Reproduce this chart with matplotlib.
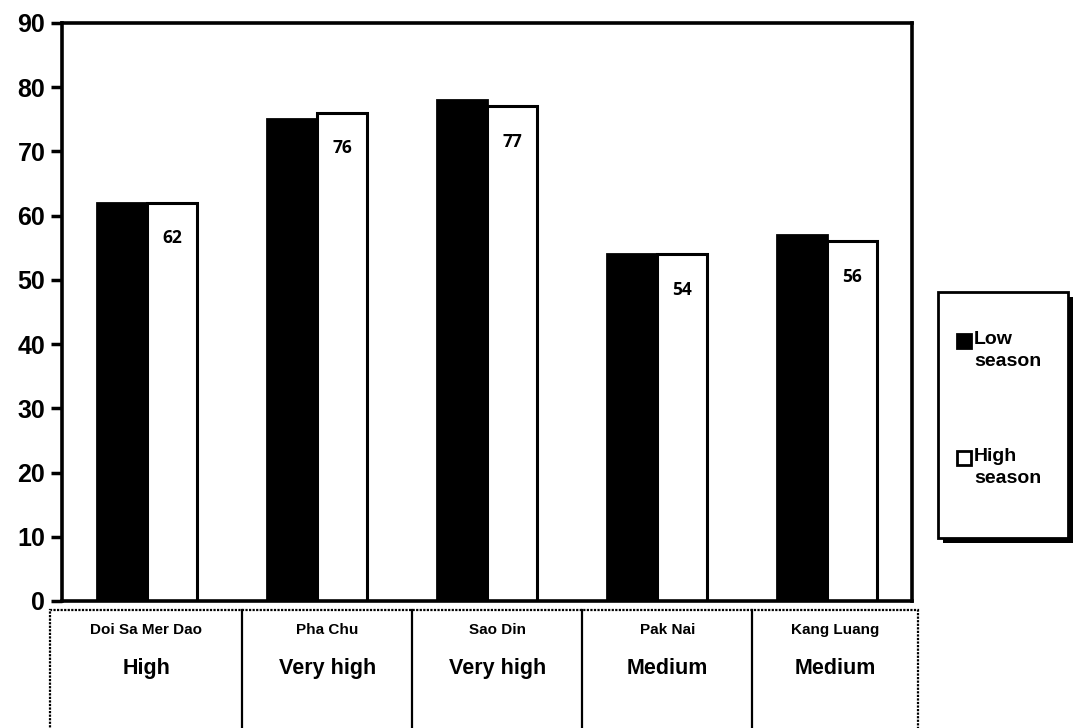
import matplotlib.pyplot as plt
import matplotlib.transforms as mtransforms
from matplotlib.patches import Rectangle
import numpy as np

plt.rcParams['font.family'] = ['Liberation Sans', 'DejaVu Sans']

sites = ["Doi Sa Mer Dao", "Pha Chu", "Sao Din", "Pak Nai", "Kang Luang"]
ratings = ["High", "Very high", "Very high", "Medium", "Medium"]
low_season = [62, 75, 78, 54, 57]
high_season = [62, 76, 77, 54, 56]
series = ["Low\nseason", "High\nseason"]
series_colors = ["black", "white"]

W, H = 1073, 728
fig = plt.figure(figsize=(W / 100, H / 100), dpi=100)
ax = fig.add_axes([62 / W, 127 / H, 850 / W, 578 / H])

x = np.arange(len(sites))
w = 0.295
ax.bar(x - w / 2, low_season, w, color='black', edgecolor='black', linewidth=2)
bars_hi = ax.bar(x + w / 2, high_season, w, color='white', edgecolor='black', linewidth=2.2)

# value labels sit just inside the top of the high-season bars
for b, v in zip(bars_hi, high_season):
    ax.text(b.get_x() + b.get_width() / 2, v - 5.5, str(v), ha='center', va='center',
            fontsize=12.5, fontweight='bold', family=['Open Sans', 'DejaVu Sans'])

ax.set_xlim(-0.5, len(sites) - 0.5)
ax.set_ylim(0, 90)
ax.set_yticks(range(0, 91, 10))
ax.set_xticks([])
ax.tick_params(axis='y', direction='out', length=8, width=2.5, labelsize=18, pad=4)
for lbl in ax.get_yticklabels():
    lbl.set_fontweight('heavy')
for s in ax.spines.values():
    s.set_linewidth(2.6)

# category table under the axis
trans = mtransforms.blended_transform_factory(ax.transData, ax.transAxes)
top, bottom = -0.016, -0.26
left, right = -0.57, 4.535
ax.add_patch(Rectangle((left, bottom), right - left, top - bottom, transform=trans,
                       fill=False, edgecolor='black', linewidth=1.6, linestyle=(0, (1, 0.6)),
                       clip_on=False))
seps = [left] + [k + 0.56 for k in range(len(sites) - 1)] + [right]
for k in range(1, len(seps) - 1):
    ax.plot([seps[k], seps[k]], [top, bottom], transform=trans, color='black',
            linewidth=1.6, clip_on=False)
for k in range(len(sites)):
    cx = (seps[k] + seps[k + 1]) / 2
    ax.text(cx, -0.05, sites[k], transform=trans, ha='center', va='center',
            fontsize=11, fontweight='bold')
    ax.text(cx, -0.116, ratings[k], transform=trans, ha='center', va='center',
            fontsize=15.5, fontweight='bold')


def fx(px):
    return px / W


def fy(py):
    return 1 - py / H


# legend box with a drop shadow, drawn in figure pixels
fig.patches.append(Rectangle((fx(943), fy(543)), fx(1130) - fx(943), fy(297) - fy(543),
                             transform=fig.transFigure, facecolor='black', edgecolor='none'))
fig.patches.append(Rectangle((fx(938), fy(538)), fx(1068) - fx(938), fy(292) - fy(538),
                             transform=fig.transFigure, facecolor='white', edgecolor='black',
                             linewidth=2))
for i, (lab, col) in enumerate(zip(series, series_colors)):
    y0 = 334 + i * 117
    fig.patches.append(Rectangle((fx(957), fy(y0 + 14)), fx(14), 14 / H,
                                 transform=fig.transFigure, facecolor=col,
                                 edgecolor='black', linewidth=2))
    fig.text(fx(974), fy(y0 - 3), lab, ha='left', va='top', fontsize=14,
             fontweight='bold', linespacing=1.35)

fig.savefig('out.png', dpi=100)
